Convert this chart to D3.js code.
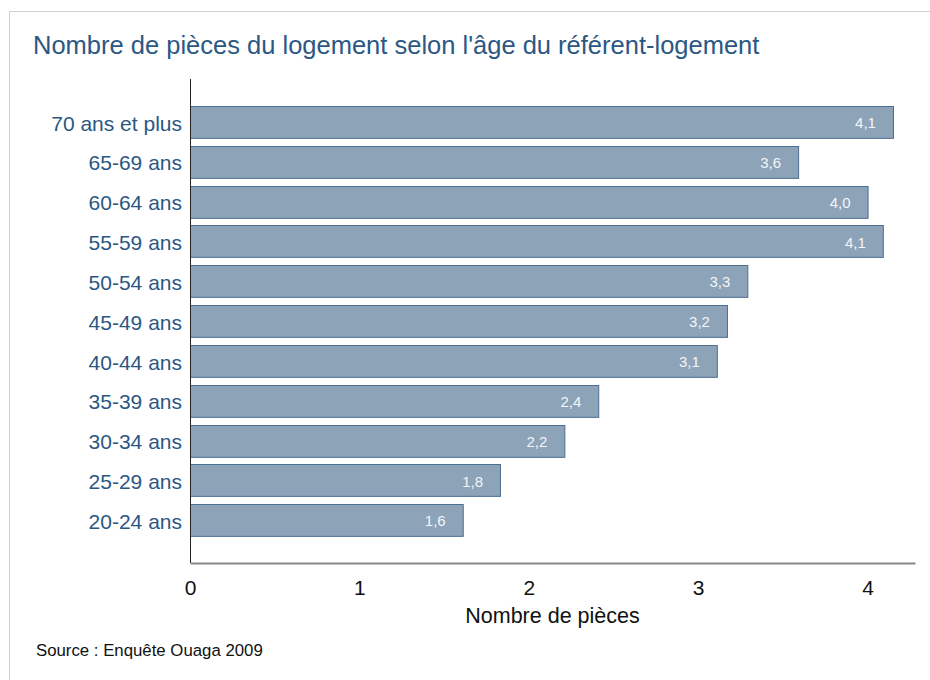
<!DOCTYPE html>
<meta charset="utf-8">
<style>
body { margin: 0; background: #fff; }
text { font-family: "Liberation Sans", Arial, sans-serif; }
.bar { fill: #8ca3b8; stroke: #4b6e92; stroke-width: 1px; }
</style>
<body>
<script src="https://d3js.org/d3.v7.min.js"></script>
<script>

// data
var categories = ["70 ans et plus", "65-69 ans", "60-64 ans", "55-59 ans", "50-54 ans",
                  "45-49 ans", "40-44 ans", "35-39 ans", "30-34 ans", "25-29 ans", "20-24 ans"];
var values = [4.15, 3.59, 4.0, 4.09, 3.29, 3.17, 3.11, 2.41, 2.21, 1.83, 1.61];
var labels = ["4,1", "3,6", "4,0", "4,1", "3,3", "3,2", "3,1", "2,4", "2,2", "1,8", "1,6"];
var xTicks = [0, 1, 2, 3, 4];

var W = 930, H = 680;

var svg = d3.select("body").append("svg")
    .attr("width", W)
    .attr("height", H);

// frame (top + left edges)
svg.append("path")
    .attr("d", "M9.5," + H + "V11.5H" + W)
    .style("fill", "none")
    .style("stroke", "#cfcfcf")
    .style("stroke-width", 1);

// title
svg.append("text")
    .attr("x", 33)
    .attr("y", 54)
    .style("font-size", "25.5px")
    .style("fill", "#2b5783")
    .text("Nombre de pièces du logement selon l'âge du référent-logement");

var x = d3.scaleLinear().domain([0, 4.28]).range([190, 915]);
var y = d3.scaleBand().domain(categories).range([102, 540])
    .paddingInner(0.2).paddingOuter(0.1);

// bars
svg.selectAll(".bar")
    .data(values)
  .enter().append("rect")
    .attr("class", "bar")
    .attr("x", x(0) + 0.5)
    .attr("y", function(d, i) { return Math.round(y(categories[i])) + 0.5; })
    .attr("width", function(d) { return x(d) - x(0); })
    .attr("height", y.bandwidth());

// value labels
svg.selectAll(".val")
    .data(values)
  .enter().append("text")
    .attr("class", "val")
    .attr("x", function(d) { return x(d) - 17; })
    .attr("y", function(d, i) { return y(categories[i]) + y.bandwidth() / 2 + 1; })
    .attr("dy", "0.35em")
    .attr("text-anchor", "end")
    .style("font-size", "15px")
    .style("fill", "#f4f6f8")
    .text(function(d, i) { return labels[i]; });

// category labels
var yAxis = svg.append("g")
    .attr("transform", "translate(" + x(0) + ",2)")
    .call(d3.axisLeft(y).tickSize(0).tickPadding(8));
yAxis.select(".domain").remove();
yAxis.selectAll("text")
    .style("fill", "#2b5783")
    .style("font-size", "21px")
    .style("font-family", "'Liberation Sans', Arial, sans-serif");

// vertical axis line
svg.append("line")
    .attr("x1", x(0) + 0.5).attr("x2", x(0) + 0.5)
    .attr("y1", 79).attr("y2", 563)
    .style("stroke", "#222")
    .style("stroke-width", 1);

// x axis
var xAxis = svg.append("g")
    .attr("transform", "translate(0,563)")
    .call(d3.axisBottom(x).tickValues(xTicks).tickSize(0).tickPadding(17)
        .tickFormat(d3.format("d")));
xAxis.select(".domain")
    .style("stroke", "#888")
    .style("stroke-width", 2);
xAxis.selectAll("text")
    .style("fill", "#111")
    .style("font-size", "21px")
    .style("font-family", "'Liberation Sans', Arial, sans-serif");

// axis title
svg.append("text")
    .attr("x", (x.range()[0] + x.range()[1]) / 2)
    .attr("y", 623)
    .attr("text-anchor", "middle")
    .style("font-size", "21.5px")
    .style("fill", "#111")
    .text("Nombre de pièces");

// source
svg.append("text")
    .attr("x", 36)
    .attr("y", 656)
    .style("font-size", "16.8px")
    .style("fill", "#111")
    .text("Source : Enquête Ouaga 2009");

</script>
</body>
